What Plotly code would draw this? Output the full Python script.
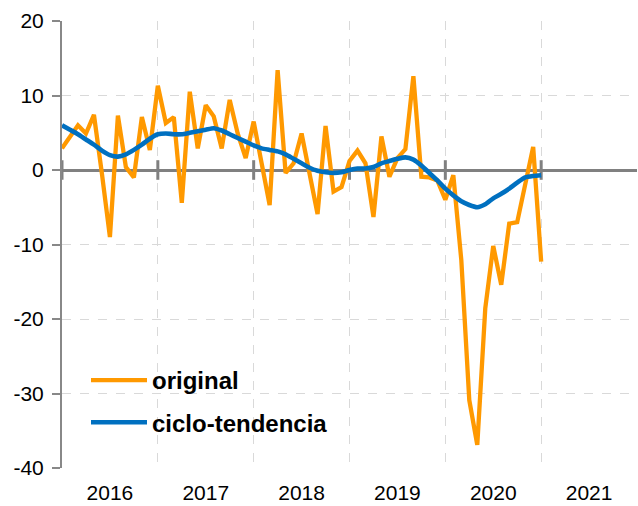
import plotly.graph_objects as go

# months since Jan 2016 (0 = Jan 2016 ... 60 = Jan 2021)
months = list(range(61))

original = [2.9, 4.5, 6.0, 4.9, 7.4, -0.5, -9.0, 7.3, 0.4, -1.0, 7.1, 2.7,
            11.3, 6.3, 7.1, -4.4, 10.5, 2.9, 8.7, 7.2, 2.9, 9.4, 4.9, 1.6,
            6.5, 0.9, -4.7, 13.4, -0.4, 0.9, 4.9, -0.5, -5.9, 5.9, -2.9, -2.3,
            1.2, 2.6, 0.9, -6.3, 4.5, -0.9, 1.6, 2.8, 12.6, -0.9, -1.0, -1.4,
            -4.0, -0.7, -12.1, -30.9, -36.9, -18.6, -10.2, -15.4, -7.2, -7.0, -2.0, 3.1,
            -12.3]

ciclo_tendencia = [6.0, 5.4, 4.8, 4.1, 3.4, 2.6, 2.0, 1.8, 2.1, 2.7, 3.4, 4.2,
                   4.8, 4.9, 4.8, 4.8, 5.0, 5.2, 5.4, 5.6, 5.3, 4.8, 4.3, 3.8,
                   3.3, 2.9, 2.7, 2.5, 2.1, 1.5, 0.9, 0.3, -0.1, -0.3, -0.4, -0.3,
                   0.0, 0.2, 0.2, 0.4, 0.9, 1.2, 1.5, 1.7, 1.4, 0.6, -0.4, -1.4,
                   -2.5, -3.4, -4.2, -4.7, -5.0, -4.6, -3.8, -3.2, -2.5, -1.7, -1.0, -0.8,
                   -0.7]

year_labels = ["2016", "2017", "2018", "2019", "2020", "2021"]
year_centers = [6, 18, 30, 42, 54, 66]
year_bounds = [0, 12, 24, 36, 48, 60]

y_ticks = [-40, -30, -20, -10, 0, 10, 20]
y_labels = ["-40", "-30", "-20", "-10", "0", "10", "20"]

fig = go.Figure()

# tick marks on the zero axis at year boundaries
fig.add_trace(go.Scatter(
    x=year_bounds, y=[0] * len(year_bounds), mode="markers",
    marker=dict(symbol="line-ns", size=14, line=dict(color="#808080", width=3)),
    showlegend=False, hoverinfo="skip"))

fig.add_trace(go.Scatter(
    x=months, y=original, mode="lines", name="original",
    line=dict(color="#FF9900", width=4.3), legendgroup="a"))

fig.add_trace(go.Scatter(
    x=months, y=ciclo_tendencia, mode="lines", name="ciclo-tendencia",
    line=dict(color="#0070C0", width=4.6, shape="spline", smoothing=0.6),
    legendgroup="b"))

fig.update_layout(
    width=638, height=506,
    margin=dict(l=62, r=1, t=21, b=38),
    paper_bgcolor="white", plot_bgcolor="white",
    font=dict(family="Liberation Sans, Arial, sans-serif", size=21, color="#000000"),
    legend=dict(
        x=(86 - 62) / 575, y=(468 - 358) / 447, xanchor="left", yanchor="top",
        bgcolor="rgba(0,0,0,0)", font=dict(size=24, weight="bold", color="#000000"),
        traceorder="grouped", tracegroupgap=8, itemwidth=56),
    xaxis=dict(
        range=[0, 72], tickvals=year_centers, ticktext=year_labels,
        ticks="", showgrid=False, zeroline=False, showline=False,
        ticklabelstandoff=10, automargin=False,
        minor=dict(tickvals=year_bounds[1:], showgrid=True, griddash="dash",
                   gridcolor="#d9d9d9", gridwidth=1.3, ticks=""),
        fixedrange=True),
    yaxis=dict(
        range=[-40, 20], tickvals=y_ticks, ticktext=y_labels,
        showline=True, linecolor="#888888", linewidth=2,
        ticks="outside", ticklen=8, tickwidth=2, tickcolor="#888888",
        showgrid=True, griddash="dash", gridcolor="#d9d9d9", gridwidth=1.3,
        zeroline=True, zerolinecolor="#808080", zerolinewidth=3,
        ticklabelstandoff=4, automargin=False, fixedrange=True),
)

fig.write_html("out.html", config={"displayModeBar": False},
               post_script="document.body.style.margin='0';")
